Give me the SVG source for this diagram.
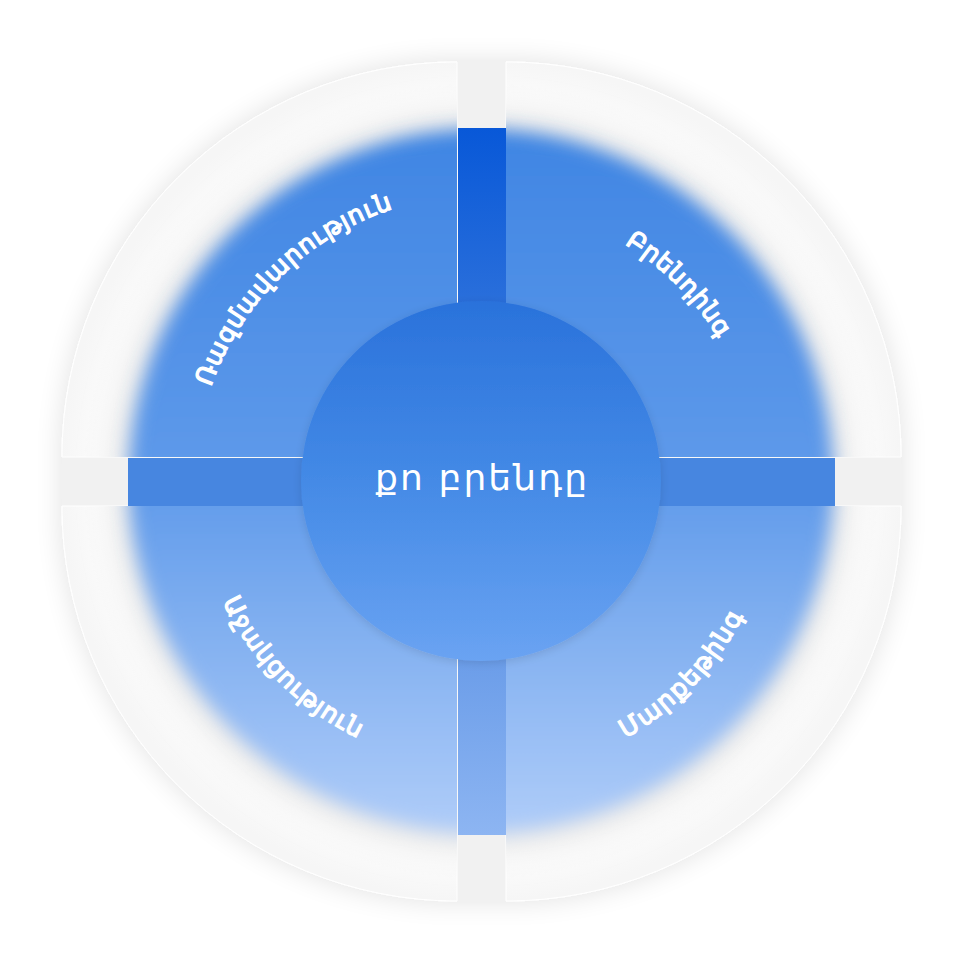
<svg xmlns="http://www.w3.org/2000/svg" width="980" height="980" viewBox="0 0 980 980">
  <style>
    .lbl { font-family: "DejaVu Sans", "Noto Sans", sans-serif; font-size: 25px; font-weight: normal; fill: #ffffff; stroke: #ffffff; stroke-width: 1.3; }
    .ctr { font-family: "DejaVu Sans", "Noto Sans", sans-serif; font-size: 36px; fill: #ffffff; }
    .quad { fill: url(#quadFill); stroke: #ffffff; stroke-width: 1; }
  </style>
  <defs>
    <radialGradient id="quadFill" cx="481" cy="481" r="420" gradientUnits="userSpaceOnUse">
      <stop offset="0.8" stop-color="#f9f9f9"/>
      <stop offset="0.9" stop-color="#fcfcfc"/>
      <stop offset="1" stop-color="#f6f6f6"/>
    </radialGradient>
    <linearGradient id="blueFill" x1="0" y1="128" x2="0" y2="835" gradientUnits="userSpaceOnUse">
      <stop offset="0" stop-color="#3f85e3"/>
      <stop offset="0.5" stop-color="#5f9aea"/>
      <stop offset="1" stop-color="#b0cdf9"/>
    </linearGradient>
    <linearGradient id="vbarFill" x1="0" y1="128" x2="0" y2="835" gradientUnits="userSpaceOnUse">
      <stop offset="0" stop-color="#0858d8"/>
      <stop offset="0.25" stop-color="#2a6fdb"/>
      <stop offset="0.75" stop-color="#6b9de9"/>
      <stop offset="1" stop-color="#8db5f2"/>
    </linearGradient>
    <linearGradient id="centerFill" x1="0" y1="301" x2="0" y2="661" gradientUnits="userSpaceOnUse">
      <stop offset="0" stop-color="#2a72db"/>
      <stop offset="0.5" stop-color="#448ae6"/>
      <stop offset="1" stop-color="#6aa3f2"/>
    </linearGradient>
    <filter id="soft" x="-10%" y="-10%" width="120%" height="120%">
      <feGaussianBlur stdDeviation="9"/>
    </filter>
    <filter id="halo" x="-15%" y="-15%" width="130%" height="130%">
      <feGaussianBlur stdDeviation="16"/>
    </filter>
    <filter id="shadow" x="-10%" y="-10%" width="120%" height="120%">
      <feGaussianBlur in="SourceAlpha" stdDeviation="14"/>
      <feComponentTransfer><feFuncA type="linear" slope="0.12"/></feComponentTransfer>
      <feMerge><feMergeNode/><feMergeNode in="SourceGraphic"/></feMerge>
    </filter>
    <filter id="cshadow" x="-20%" y="-20%" width="140%" height="140%">
      <feGaussianBlur in="SourceAlpha" stdDeviation="5"/>
      <feOffset dy="2"/>
      <feComponentTransfer><feFuncA type="linear" slope="0.12"/></feComponentTransfer>
      <feMerge><feMergeNode/><feMergeNode in="SourceGraphic"/></feMerge>
    </filter>
    <clipPath id="quadClip">
      <path d="M457,457 L62,457 A395,395 0 0 1 457,62 Z"/>
      <path d="M506,457 L506,62 A395,395 0 0 1 901,457 Z"/>
      <path d="M506,506 L901,506 A395,395 0 0 1 506,901 Z"/>
      <path d="M457,506 L457,901 A395,395 0 0 1 62,506 Z"/>
    </clipPath>
    <path id="arcTL" d="M204.0,552.1 A286,286 0 0 1 557.9,205.5"/>
    <path id="arcTR" d="M409.8,213.3 A277,277 0 0 1 748.4,553.2"/>
    <path id="arcBL" d="M206.1,405.8 A285,285 0 0 0 553.3,756.7"/>
    <path id="arcBR" d="M409.6,767.2 A295,295 0 0 0 764.6,399.7"/>
  </defs>

  <rect width="980" height="980" fill="#ffffff"/>

  <!-- outer ring quadrants -->
  <g id="ring" filter="url(#shadow)">
    <rect x="62" y="457" width="839" height="49" fill="#f1f1f1"/>
    <rect x="457" y="62" width="49" height="839" fill="#f1f1f1"/>
    <path class="quad" d="M457,457 L62,457 A395,395 0 0 1 457,62 Z"/>
    <path class="quad" d="M506,457 L506,62 A395,395 0 0 1 901,457 Z"/>
    <path class="quad" d="M506,506 L901,506 A395,395 0 0 1 506,901 Z"/>
    <path class="quad" d="M457,506 L457,901 A395,395 0 0 1 62,506 Z"/>
  </g>

  <!-- blurred blue disc with grey halo -->
  <g clip-path="url(#quadClip)">
    <circle cx="481" cy="481" r="368" fill="#e6e6e6" filter="url(#halo)"/>
    <circle cx="481" cy="481" r="352" fill="url(#blueFill)" filter="url(#soft)"/>
  </g>

  <!-- cross bars -->
  <g id="cross">
    <rect x="458" y="128" width="48" height="707" fill="url(#vbarFill)"/>
    <rect x="128" y="458" width="707" height="48" fill="#4786e0"/>
  </g>

  <g id="node-strategy">
    <text class="lbl"><textPath href="#arcTL" startOffset="50%" text-anchor="middle" textLength="264" lengthAdjust="spacing">Ռազմավարություն</textPath></text>
  </g>
  <g id="node-branding">
    <text class="lbl"><textPath href="#arcTR" startOffset="50%" text-anchor="middle" textLength="134" lengthAdjust="spacing">Բրենդինգ</textPath></text>
  </g>
  <g id="node-support">
    <text class="lbl"><textPath href="#arcBL" startOffset="50%" text-anchor="middle" textLength="196" lengthAdjust="spacing">Աջակցություն</textPath></text>
  </g>
  <g id="node-marketing">
    <text class="lbl"><textPath href="#arcBR" startOffset="50%" text-anchor="middle" textLength="172" lengthAdjust="spacing">Մարքեթինգ</textPath></text>
  </g>

  <g id="node-center">
    <circle cx="481" cy="481" r="180" fill="url(#centerFill)" filter="url(#cshadow)"/>
    <text class="ctr" x="481" y="490" text-anchor="middle" textLength="212" lengthAdjust="spacing">քո բրենդը</text>
  </g>
</svg>
